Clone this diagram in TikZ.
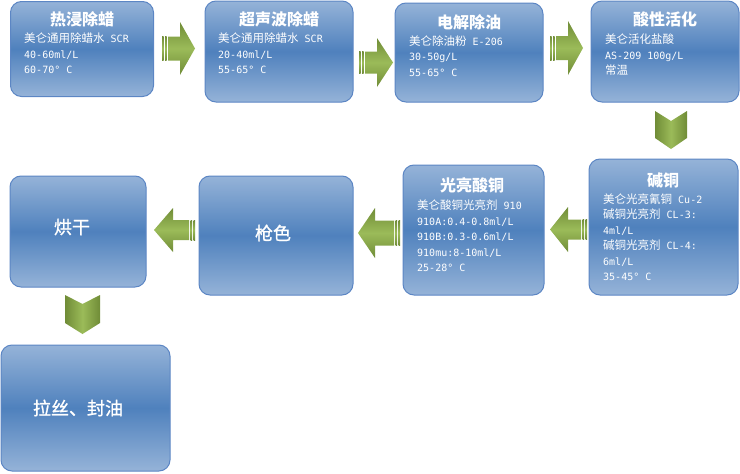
\documentclass[tikz,border=0pt]{standalone}
\usepackage{fontspec}
\setmainfont{DejaVu Sans Mono}
\newfontfamily\cjk{Noto Sans CJK SC}
\newfontfamily\cjkmed{Noto Sans CJK SC}[FakeBold=1.2]
\newcommand\zh[1]{{\cjk\fontsize{11.5}{15.5}\selectfont #1}}
\definecolor{boxlight}{RGB}{149,179,216}
\definecolor{boxdark}{RGB}{79,129,189}
\definecolor{boxborder}{RGB}{92,134,196}
\definecolor{arrlight}{RGB}{155,187,89}
\definecolor{arrdark}{RGB}{112,140,55}
\tikzset{
  box/.style={draw=boxborder, line width=1pt, rounded corners=11pt,
    top color=boxlight, bottom color=boxlight, middle color=boxdark,
    inner sep=0pt, outer sep=0pt},
  ttl/.style={text=white, font=\cjk\bfseries\fontsize{16}{18}\selectfont, inner sep=0pt},
  bigttl/.style={text=white, font=\cjkmed\fontsize{18}{20}\selectfont, inner sep=0pt},
  body/.style={text=white, font=\fontsize{10}{15.5}\selectfont, align=left, anchor=west, inner sep=0pt},
  harr/.style={top color=arrdark, bottom color=arrdark, middle color=arrlight},
  varr/.style={left color=arrdark, right color=arrdark, middle color=arrlight},
}
% right-pointing block arrow in local coords: L length, Hl head length, Hh head half, Sh shaft half
\newcommand\blockarr[4]{%
  \path[harr] (0,-#4) rectangle (1.5,#4);
  \path[harr] (3,-#4) rectangle (4.5,#4);
  \path[harr] (6,-#4) -- ({#1-#2},-#4) -- ({#1-#2},-#3) -- (#1,0) -- ({#1-#2},#3) -- ({#1-#2},#4) -- (6,#4) -- cycle;
}
% down chevron: w width, n notch, h height, p point
\newcommand\chevarr[4]{%
  \path[varr] (0,0) -- ({#1/2},#2) -- (#1,0) -- (#1,{#3-#4}) -- ({#1/2},#3) -- (0,{#3-#4}) -- cycle;
}
\begin{document}
\begin{tikzpicture}[x=1pt,y=-1pt]
\useasboundingbox (0,0) rectangle (740,474);

% boxes
\node[box, minimum width=143pt, minimum height=95pt] (b1) at (82,49) {};
\node[box, minimum width=148pt, minimum height=101pt] (b2) at (279,51.5) {};
\node[box, minimum width=148pt, minimum height=99pt] (b3) at (469,52.5) {};
\node[box, minimum width=148pt, minimum height=101pt] (b4) at (665,51.5) {};
\node[box, minimum width=149pt, minimum height=136pt] (b5) at (663.5,227) {};
\node[box, minimum width=141pt, minimum height=130pt] (b6) at (473.5,230) {};
\node[box, minimum width=154pt, minimum height=119pt] (b7) at (276,235.5) {};
\node[box, minimum width=136pt, minimum height=111pt] (b8) at (78,231.5) {};
\node[box, minimum width=169pt, minimum height=126pt] (b9) at (85.5,408) {};

% titles
\node[ttl] (t1) at (82,19) {热浸除蜡};
\node[ttl] (t2) at (279,19) {超声波除蜡};
\node[ttl] (t3) at (469,22) {电解除油};
\node[ttl] (t4) at (665,19) {酸性活化};
\node[ttl] (t5) at (663,180) {碱铜};
\node[ttl] (t6) at (472,185) {光亮酸铜};
\node[bigttl] (t7) at (273,233) {枪色};
\node[bigttl] (t8) at (72,227) {烘干};
\node[bigttl] (t9) at (78,408) {拉丝、封油};

% bodies
\node[body] (d1) at (24,53.5) {\zh{美仑通用除蜡水} SCR\\40-60ml/L\\60-70° C};
\node[body] (d2) at (218,53.5) {\zh{美仑通用除蜡水} SCR\\20-40ml/L\\55-65° C};
\node[body] (d3) at (409,56) {\zh{美仑除油粉} E-206\\30-50g/L\\55-65° C};
\node[body] (d4) at (605,55) {\zh{美仑活化盐酸}\\AS-209 100g/L\\\zh{常温}};
\node[body] (d5) at (603,237) {\zh{美仑光亮氰铜} Cu-2\\\zh{碱铜光亮剂} CL-3:\\4ml/L\\\zh{碱铜光亮剂} CL-4:\\6ml/L\\35-45° C};
\node[body] (d6) at (417,236) {\zh{美仑酸铜光亮剂} 910\\910A:0.4-0.8ml/L\\910B:0.3-0.6ml/L\\910mu:8-10ml/L\\25-28° C};

% arrows
\begin{scope}[shift={(162,48.5)}] \blockarr{33}{15}{26.5}{12} \end{scope}
\begin{scope}[shift={(359,62.5)}] \blockarr{34}{16}{24.5}{11} \end{scope}
\begin{scope}[shift={(550,48)}] \blockarr{33}{15}{27}{12} \end{scope}
\begin{scope}[shift={(587,229.5)}, xscale=-1] \blockarr{37}{18}{22.5}{10} \end{scope}
\begin{scope}[shift={(400,233)}, xscale=-1] \blockarr{42}{17}{25}{12.5} \end{scope}
\begin{scope}[shift={(195,230)}, xscale=-1] \blockarr{41}{19}{22}{10} \end{scope}
\begin{scope}[shift={(655,111)}] \chevarr{32}{10}{38}{11} \end{scope}
\begin{scope}[shift={(65,295)}] \chevarr{35}{9}{39}{11} \end{scope}
\end{tikzpicture}
\end{document}
